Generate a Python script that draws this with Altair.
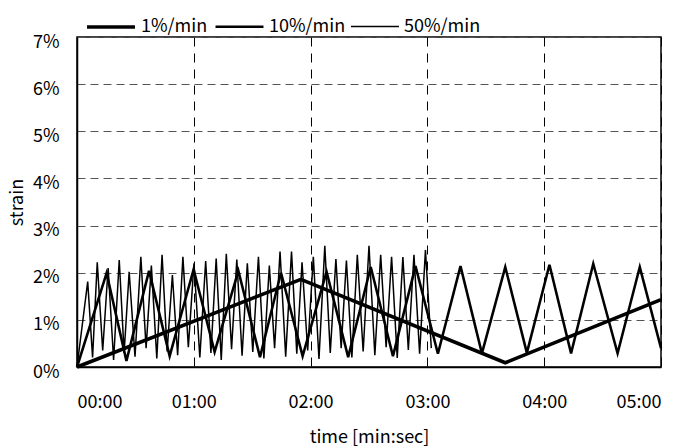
import altair as alt
import pandas as pd

series_names = ["1%/min", "10%/min", "50%/min"]

# 1%/min (thick) key points: time [s], strain [%]
slow_t = [0, 115, 220, 300]
slow_v = [0.0, 1.86, 0.09, 1.43]

# 10%/min (medium) peaks/troughs
mid_t = [0, 15.2, 25.4, 37.0, 47.6, 59.9, 70.7, 82.9, 94.0, 104.8, 115.9, 128.2, 139.3,
         150.9, 162.3, 173.9, 185.4, 197.0, 208.0, 220.0, 231.1, 242.7, 253.8, 265.2,
         277.7, 289.1, 300]
mid_v = [0.0, 1.99, 0.13, 2.04, 0.23, 2.07, 0.32, 2.04, 0.21, 2.00, 0.23, 2.02, 0.21,
         2.12, 0.23, 2.14, 0.28, 2.14, 0.29, 2.12, 0.30, 2.17, 0.29, 2.19, 0.29, 2.12, 0.40]

# 50%/min (thin) peaks
fast_peak_t = [5.5, 10.4, 16.0, 21.7, 26.8, 32.8, 38.2, 43.7, 49.0, 54.4, 60.1, 66.1,
               71.5, 76.7, 82.1, 87.5, 93.2, 98.8, 104.3, 110.2, 115.6, 121.4, 127.3,
               133.0, 138.4, 144.0, 150.0, 156.0, 161.6, 167.4, 173.1, 179.0]
fast_peak_v = [1.81, 2.22, 2.10, 2.27, 2.02, 2.34, 2.15, 2.38, 1.95, 2.34, 2.20, 2.25,
               2.30, 2.40, 2.28, 2.20, 2.34, 2.15, 2.45, 2.45, 2.22, 2.34, 2.57, 2.29,
               2.26, 2.38, 2.57, 2.38, 2.34, 2.33, 2.38, 2.48]
# 50%/min troughs (after each peak)
fast_trough_t = [8.0, 13.2, 18.8, 24.2, 29.8, 35.5, 41.0, 46.3, 51.7, 57.2, 63.1, 68.8,
                 74.1, 79.4, 84.8, 90.3, 96.0, 101.5, 107.2, 112.9, 118.5, 124.3, 130.1,
                 135.7, 141.2, 147.0, 153.0, 158.8, 164.5, 170.2, 176.0, 182.0]
fast_trough_v = [0.20, 0.35, 0.15, 0.30, 0.22, 0.40, 0.18, 0.33, 0.25, 0.42, 0.20, 0.30,
                 0.15, 0.38, 0.24, 0.32, 0.18, 0.40, 0.22, 0.28, 0.35, 0.17, 0.30, 0.40,
                 0.20, 0.33, 0.25, 0.42, 0.19, 0.36, 0.28, 0.40]

rows = []
rows.append({"series": "50%/min", "t": 0.0, "v": 0.0})
for pt, pv, tt, tv in zip(fast_peak_t, fast_peak_v, fast_trough_t, fast_trough_v):
    rows.append({"series": "50%/min", "t": pt, "v": pv})
    rows.append({"series": "50%/min", "t": tt, "v": tv})
for t, v in zip(mid_t, mid_v):
    rows.append({"series": "10%/min", "t": t, "v": v})
for t, v in zip(slow_t, slow_v):
    rows.append({"series": "1%/min", "t": t, "v": v})
df = pd.DataFrame(rows)

FONT = "Noto Sans CJK JP"

legend = alt.Legend(
    title=None, orient="none", direction="horizontal", legendX=8, legendY=-36,
    symbolType="stroke", symbolSize=2300, labelFontSize=18, labelFont=FONT,
    labelColor="black", columnPadding=2, labelOffset=4, symbolStrokeColor="black",
)

chart = alt.Chart(df).mark_line(strokeJoin="miter", strokeCap="butt").encode(
    x=alt.X("t:Q", title="time [min:sec]",
            scale=alt.Scale(domain=[0, 300], nice=False),
            axis=alt.Axis(values=[0, 60, 120, 180, 240, 300],
                          labelExpr="'0' + floor(datum.value/60) + ':00'",
                          ticks=False, labelPadding=40, labelBaseline="alphabetic",
                          gridDash=[9, 7], gridColor="black", gridOpacity=1,
                          titleBaseline="alphabetic", titleY=75,
                          labelFont=FONT, labelFontSize=18, labelColor="black",
                          titleFont=FONT, titleFontSize=18, titleFontWeight="normal",
                          titleColor="black", domainColor="black", domainWidth=1.5)),
    y=alt.Y("v:Q", title="strain",
            scale=alt.Scale(domain=[0, 7], nice=False),
            axis=alt.Axis(values=[0, 1, 2, 3, 4, 5, 6, 7],
                          labelExpr="datum.value + '%'",
                          ticks=False, labelPadding=18, labelBaseline="alphabetic",
                          labelOffset=10,
                          gridDash=[8, 5], gridColor="#555555", gridOpacity=1,
                          titlePadding=6,
                          labelFont=FONT, labelFontSize=18, labelColor="black",
                          titleFont=FONT, titleFontSize=18, titleFontWeight="normal",
                          titleColor="black", domainColor="black", domainWidth=1.5)),
    color=alt.Color("series:N", scale=alt.Scale(domain=series_names,
                                                range=["black", "black", "black"]),
                    legend=legend),
    strokeWidth=alt.StrokeWidth("series:N", scale=alt.Scale(domain=series_names,
                                                             range=[3.6, 1.5, 0.9]),
                                legend=legend),
    order=alt.Order("t:Q"),
).properties(
    width=584, height=330,
    background="white",
    autosize=alt.AutoSizeParams(type="none"),
    padding={"left": 77, "top": 37, "right": 24, "bottom": 80},
).configure_view(
    stroke="black", strokeWidth=1.5
)

chart.save("out.html", embed_options={"renderer": "svg", "actions": False})
